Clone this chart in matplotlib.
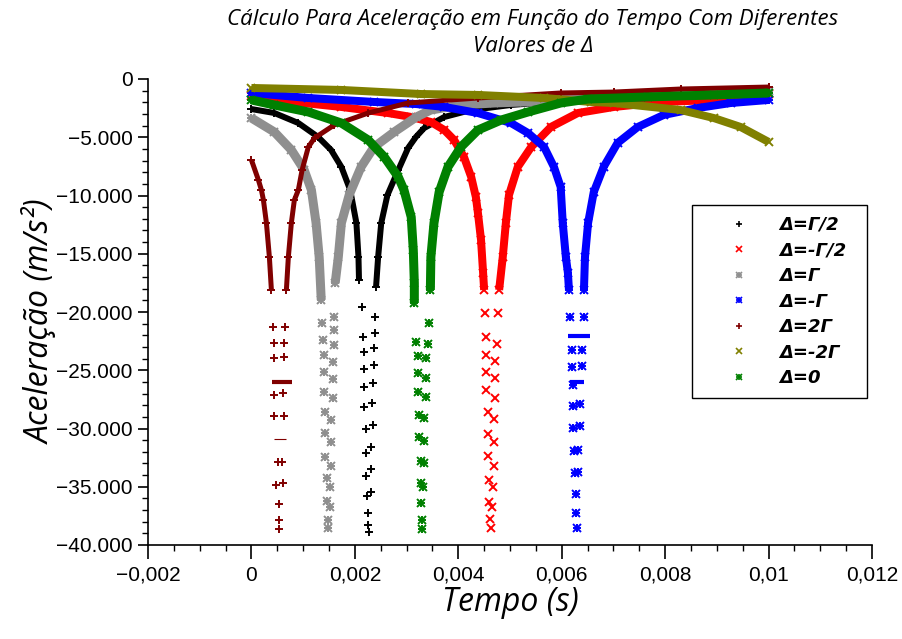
import matplotlib
matplotlib.use('Agg')
import matplotlib.pyplot as plt
from matplotlib.lines import Line2D
from matplotlib.ticker import MultipleLocator, FuncFormatter
import numpy as np

plt.rcParams['font.family'] = ['Liberation Sans Narrow', 'Liberation Sans', 'DejaVu Sans']

labels = ['Δ=Γ/2', 'Δ=-Γ/2', 'Δ=Γ', 'Δ=-Γ', 'Δ=2Γ', 'Δ=-2Γ', 'Δ=0']

# tempo (s) e aceleracao (m/s^2), ramo esquerdo e depois ramo direito
t_gamma_half = [0, 0.000444, 0.000907, 0.00129, 0.00154, 0.00174, 0.00191, 0.00203, 0.00207, 0.00208,
                0.00214, 0.00216, 0.00218, 0.00218, 0.00218, 0.00218, 0.00222, 0.00222, 0.00222, 0.00224,
                0.00226, 0.00226, 0.00228,
                0.00232, 0.00232, 0.00232, 0.00236, 0.00234, 0.00236, 0.00237, 0.00237, 0.00239, 0.00239,
                0.00241, 0.00245, 0.00251, 0.00263, 0.00284, 0.00303, 0.00318, 0.00334, 0.00373, 0.00425,
                0.00502, 0.00676, 0.01]
a_gamma_half = [-2580, -2920, -3780, -4980, -6090, -7550, -9530, -12360, -15280, -17250,
                -19570, -22150, -23430, -24890, -26440, -28160, -30040, -32100, -34080, -35800,
                -37260, -38290, -38890,
                -35450, -33480, -31590, -29700, -27810, -26100, -24550, -23090, -21800, -20430,
                -17850, -15280, -12360, -9960, -7810, -5920, -4980, -4210, -3260, -2660,
                -2230, -1630, -1120]

t_minus_gamma_half = [0, 0.000444, 0.00174, 0.00264, 0.00309, 0.00347, 0.00373, 0.00392, 0.00411, 0.00425,
                      0.00434, 0.00438, 0.00444, 0.00448, 0.0045, 0.00452, 0.00454, 0.00454, 0.00454, 0.00454,
                      0.00458, 0.00458, 0.00458, 0.0046, 0.0046, 0.00461, 0.00463,
                      0.00465, 0.00467, 0.00469, 0.00469, 0.00469, 0.00471, 0.00471, 0.00471, 0.00475, 0.00477,
                      0.00479, 0.00486, 0.00492, 0.00498, 0.00515, 0.00541, 0.00579, 0.00631, 0.00701, 0.00797,
                      0.00894, 0.01]
a_minus_gamma_half = [-1460, -1800, -2400, -2920, -3260, -3690, -4380, -5240, -6700, -8410,
                      -10130, -11500, -13820, -16650, -18110, -20090, -22150, -23690, -25150, -26700,
                      -28590, -30470, -32360, -34420, -36310, -37770, -38540,
                      -36740, -35020, -33220, -31160, -29190, -27380, -25670, -24210, -22750, -20090,
                      -18110, -15280, -12360, -9960, -7550, -5840, -4120, -2920, -2400, -1970,
                      -1800, -1300]

t_gamma = [0, 0.000444, 0.000772, 0.00102, 0.00116, 0.00125, 0.00131, 0.00135, 0.00137, 0.00139,
           0.00141, 0.00141, 0.00141, 0.00143, 0.00143, 0.00143, 0.00147, 0.00147, 0.00149, 0.00149,
           0.00151, 0.00151, 0.00154, 0.00154, 0.00154, 0.00158, 0.00158, 0.00158, 0.0016, 0.0016,
           0.0016, 0.00162, 0.00168, 0.00174, 0.00189, 0.00212, 0.00237, 0.00276, 0.00319, 0.00347,
           0.00405, 0.00469, 0.00527, 0.00772, 0.01]
a_gamma = [-3350, -4550, -6090, -7810, -9530, -12360, -15280, -18970, -20950, -22400,
           -23690, -25150, -26870, -28590, -30390, -32450, -34250, -36220, -37860, -38540,
           -36740, -35020, -33220, -31160, -29270, -27380, -25750, -24290, -22830, -21550,
           -20430, -17510, -15280, -12360, -9960, -7550, -5840, -4550, -3260, -2660,
           -2230, -2060, -1970, -1290, -1030]

t_minus_gamma = [0, 0.0011, 0.00237, 0.00319, 0.00373, 0.00438, 0.00502, 0.00535, 0.00566, 0.00585,
                 0.00598, 0.00602, 0.00608, 0.00612, 0.00614, 0.00616, 0.0062, 0.0062, 0.00622, 0.00622,
                 0.00622, 0.00624, 0.00625, 0.00627, 0.00627, 0.00629,
                 0.00631, 0.00631, 0.00635, 0.00635, 0.00639, 0.00639, 0.00643, 0.00643, 0.00645, 0.00651,
                 0.00662, 0.00681, 0.00708, 0.00747, 0.00797, 0.00863, 0.00927, 0.01]
a_minus_gamma = [-1200, -1630, -1970, -2150, -2400, -2920, -3780, -4640, -5840, -7550,
                 -9270, -12360, -15280, -16650, -18110, -20430, -23260, -24720, -26270, -28070,
                 -29960, -31930, -33820, -35620, -37260, -38540,
                 -33740, -31850, -29790, -27900, -24640, -23260, -20430, -18110, -15280, -12360,
                 -9700, -7550, -5490, -4120, -3090, -2490, -2060, -1800]

t_two_gamma = [0, 0.000135, 0.000193, 0.000232, 0.00029, 0.000347, 0.000386, 0.000425, 0.000444, 0.000444,
               0.000444, 0.000444, 0.00052, 0.00048, 0.00054, 0.00054, 0.00054,
               0.000618, 0.000598, 0.000637, 0.000618, 0.000637, 0.000637, 0.000656, 0.000676, 0.000714,
               0.000772, 0.00083, 0.000907, 0.00098, 0.0011, 0.00122, 0.0016, 0.00226, 0.00303, 0.00438,
               0.00598, 0.00701, 0.0083, 0.01]
a_two_gamma = [-6950, -8670, -9530, -10390, -12360, -15280, -18110, -21290, -22660, -23950,
               -27130, -28930, -32880, -34850, -36480, -37860, -38630,
               -34680, -32880, -28930, -26950, -23860, -22660, -21290, -18110, -15280,
               -12360, -10390, -9530, -7810, -5840, -5065, -3950, -2920, -2060, -1630,
               -1200, -1120, -860, -690]

t_minus_two_gamma = [0, 0.00174, 0.00328, 0.00438, 0.00566, 0.00656, 0.00701, 0.0083, 0.00894, 0.00946, 0.01]
a_minus_two_gamma = [-770, -940, -1290, -1370, -1630, -1970, -2060, -2660, -3350, -4120, -5400]

t_zero = [0, 0.000444, 0.0011, 0.00174, 0.00226, 0.00257, 0.00284, 0.00295, 0.00309, 0.00313,
          0.00315, 0.00315, 0.00319, 0.00322, 0.00322, 0.00322, 0.00324, 0.00324, 0.00328, 0.00328,
          0.00328, 0.0033, 0.0033,
          0.00332, 0.00334, 0.00334, 0.00334, 0.00338, 0.00338, 0.00338, 0.00342, 0.00344, 0.00346,
          0.00347, 0.00353, 0.00363, 0.0038, 0.00405, 0.00438, 0.00483, 0.00535, 0.00598, 0.00651,
          0.00766, 0.00894, 0.01]
a_zero = [-1800, -2230, -2830, -3780, -5240, -6700, -8410, -9530, -11850, -14680,
          -17510, -19230, -22580, -23780, -25240, -26870, -28840, -30730, -32790, -34680,
          -36400, -37860, -38630,
          -35020, -32960, -31080, -29100, -27300, -25670, -23950, -22750, -20950, -18110,
          -15280, -12360, -9700, -7550, -5840, -4380, -3520, -2830, -2060, -1720,
          -1540, -1370, -1200]

# tracos horizontais soltos no grafico
bar_t_start = [0.000405, 0.000444, 0.00612, 0.00616]
bar_t_end = [0.000792, 0.000676, 0.00654, 0.00643]
bar_a = [-26000, -30900, -22060, -26000]

series_t = [t_gamma_half, t_minus_gamma_half, t_gamma, t_minus_gamma, t_two_gamma, t_minus_two_gamma, t_zero]
series_a = [a_gamma_half, a_minus_gamma_half, a_gamma, a_minus_gamma, a_two_gamma, a_minus_two_gamma, a_zero]
colors = ['#000000', '#FF0000', '#8F8F8F', '#0000FF', '#800000', '#808000', '#008000']
# '+' e 'x' sobrepostos fazem o asterisco do original
markers = [('+',), ('x',), ('+', 'x'), ('+', 'x'), ('+',), ('x',), ('+', 'x')]
band_px = [6, 8, 9, 8, 5, 8, 9]

fig = plt.figure(figsize=(9.02, 6.39), dpi=100)
ax = fig.add_axes([148 / 902, 1 - 545 / 639, (872 - 148) / 902, (545 - 79) / 639])

for t, a, c, ms, w in zip(series_t, series_a, colors, markers, band_px):
    t = np.array(t)
    a = np.array(a, dtype=float)
    band = np.where(a > -19500, a, np.nan)
    ax.plot(t, band, color=c, linewidth=w / 1.389, solid_capstyle='butt')
    for m in ms:
        ax.plot(t, a, linestyle='none', marker=m, color=c, markersize=6, markeredgewidth=1.4)

bar_colors = ['#800000', '#800000', '#0000FF', '#0000FF']
bar_widths = [3, 0.8, 3, 3]
for t0, t1, a, c, w in zip(bar_t_start, bar_t_end, bar_a, bar_colors, bar_widths):
    ax.plot([t0, t1], [a, a], color=c, linewidth=w, solid_capstyle='butt')

ax.set_xlim(-0.002, 0.012)
ax.set_ylim(-40000, 0)
ax.spines['top'].set_visible(False)
ax.spines['right'].set_visible(False)
ax.spines['left'].set_linewidth(1.2)
ax.spines['bottom'].set_linewidth(1.2)

ax.xaxis.set_major_locator(MultipleLocator(0.002))
ax.xaxis.set_minor_locator(MultipleLocator(0.0005))
ax.yaxis.set_major_locator(MultipleLocator(5000))
ax.yaxis.set_minor_locator(MultipleLocator(1000))


def fmt_x(v, pos):
    v = round(v, 6)
    s = ('%g' % abs(v)).replace('.', ',')
    return '\u2212' + s if v < 0 else s


def fmt_y(v, pos):
    s = '{:,.0f}'.format(abs(v)).replace(',', '.')
    return '\u2212' + s if v < 0 else s


ax.xaxis.set_major_formatter(FuncFormatter(fmt_x))
ax.yaxis.set_major_formatter(FuncFormatter(fmt_y))
ax.tick_params(which='major', direction='out', length=7, width=1.2, labelsize=15, pad=4)
ax.tick_params(which='minor', direction='out', length=4, width=1.0)
ax.tick_params(axis='x', which='major', length=10, pad=5)

ax.set_xlabel('Tempo (s)', family='Open Sans', style='italic', fontsize=23)
ax.set_ylabel('Aceleração (m/s²)', family='Open Sans', style='italic', fontsize=23)
ax.xaxis.set_label_coords(0.5, -0.088)
ax.yaxis.set_label_coords(-0.125, 0.48)

fig.text(533 / 902, 1 - 33 / 639,
         'Cálculo Para Aceleração em Função do Tempo Com Diferentes\nValores de Δ',
         ha='center', va='center', family='Open Sans', style='italic', fontsize=16, linespacing=1.42)

handles = [tuple(Line2D([], [], linestyle='none', marker=m, color=c, markersize=5, markeredgewidth=1.2)
                 for m in ms)
           for ms, c in zip(markers, colors)]
leg = ax.legend(handles, labels, loc='upper left', mode='expand',
                bbox_to_anchor=(692 / 902, 1 - 390 / 639, 175 / 902, 185 / 639),
                bbox_transform=fig.transFigure, borderaxespad=0, fancybox=False, framealpha=1,
                edgecolor='black', handlelength=4, handletextpad=0.25, labelspacing=0.42,
                borderpad=0.6, prop={'family': 'DejaVu Sans', 'weight': 'bold', 'style': 'oblique', 'size': 13})
leg.get_frame().set_linewidth(1.0)

fig.savefig('out.png', dpi=100)
